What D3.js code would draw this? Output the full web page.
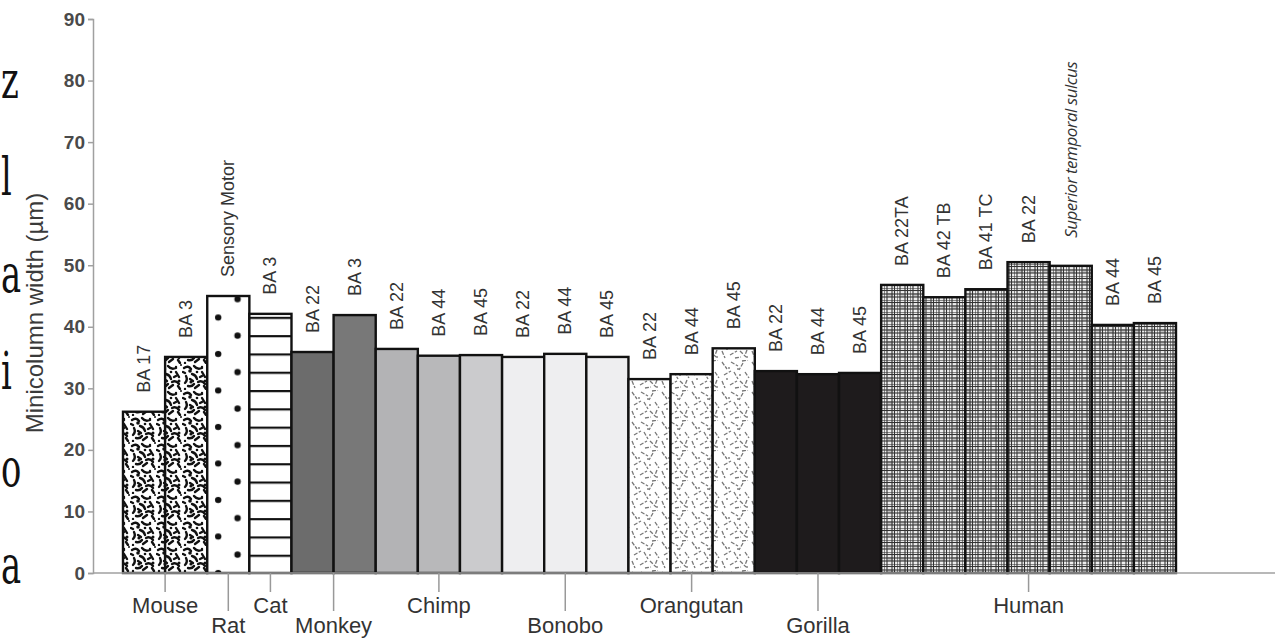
<!DOCTYPE html>
<html>
<head>
<meta charset="utf-8">
<script src="https://cdn.jsdelivr.net/npm/d3@7"></script>
<style>
  body { margin: 0; background: #fff; }
  svg { display: block; }
</style>
</head>
<body>
<div id="chart"></div>
<script>
// Species groups along the x axis
const groups = ["Mouse", "Rat", "Cat", "Monkey", "Chimp", "Bonobo", "Orangutan", "Gorilla", "Human"];

// One entry per bar
const barGroups = ["Mouse", "Mouse", "Rat", "Cat", "Monkey", "Monkey",
    "Chimp", "Chimp", "Chimp", "Bonobo", "Bonobo", "Bonobo",
    "Orangutan", "Orangutan", "Orangutan", "Gorilla", "Gorilla", "Gorilla",
    "Human", "Human", "Human", "Human", "Human", "Human", "Human"];
const barLabels = ["BA 17", "BA 3", "Sensory Motor", "BA 3", "BA 22", "BA 3",
    "BA 22", "BA 44", "BA 45", "BA 22", "BA 44", "BA 45",
    "BA 22", "BA 44", "BA 45", "BA 22", "BA 44", "BA 45",
    "BA 22TA", "BA 42 TB", "BA 41 TC", "BA 22", "Superior temporal sulcus", "BA 44", "BA 45"];
const widths = [26.2, 35.1, 45.0, 42.1, 35.9, 41.9,
    36.4, 35.3, 35.4, 35.1, 35.6, 35.1,
    31.5, 32.3, 36.5, 32.8, 32.3, 32.5,
    46.8, 44.8, 46.1, 50.5, 49.9, 40.3, 40.6];

const yTicks = [0, 10, 20, 30, 40, 50, 60, 70, 80, 90];
const yTitle = "Minicolumn width (\u00b5m)";

// cut-off text letters at the left page edge
const sideLetters = ["z", "l", "a", "i", "o", "a"];

const W = 1281, H = 642;
const margin = {top: 19, right: 105, bottom: 69, left: 123};

const svg = d3.select("#chart").append("svg")
    .attr("width", W)
    .attr("height", H);

const x = d3.scaleBand()
    .domain(d3.range(widths.length))
    .range([margin.left, W - margin.right])
    .padding(0);

const y = d3.scaleLinear()
    .domain([0, 90])
    .range([H - margin.bottom, margin.top]);

const bw = x.bandwidth();
const defs = svg.append("defs");

// ---- fill patterns ----
// Mouse: black blotchy texture
let pm = defs.append("pattern").attr("id", "mouse")
    .attr("patternUnits", "userSpaceOnUse").attr("width", 26).attr("height", 26);
pm.append("rect").attr("width", 26).attr("height", 26).attr("fill", "#fff");
[
    "M2,4 q4,-3 7,1", "M12,2 q3,4 8,2", "M20,8 l3,5", "M4,12 q2,4 -1,7",
    "M10,10 q4,1 5,5", "M16,18 q4,-2 7,2", "M6,22 q4,1 6,-2", "M13,24 l4,-3",
    "M22,22 l2,3", "M1,8 l2,1", "M18,13 l2,-1", "M8,15 l3,2"
].forEach(p => pm.append("path").attr("d", p).attr("fill", "none")
    .attr("stroke", "#111").attr("stroke-width", 2.4).attr("stroke-linecap", "round"));
[[8, 7, 1.8], [15, 8, 1.3], [23, 17, 1.5], [9, 18, 1.6], [3, 25, 1.2], [20, 3, 1.2], [25, 1, 1]]
    .forEach(c => pm.append("circle").attr("cx", c[0]).attr("cy", c[1]).attr("r", c[2]).attr("fill", "#111"));

// Rat: white with alternating black dots
const ratIdx = barGroups.indexOf("Rat");
let pr = defs.append("pattern").attr("id", "rat")
    .attr("patternUnits", "userSpaceOnUse")
    .attr("x", x(ratIdx)).attr("y", y(0) - 9)
    .attr("width", bw).attr("height", 36.5);
pr.append("rect").attr("width", bw).attr("height", 36.5).attr("fill", "#fff");
pr.append("circle").attr("cx", bw * 0.26).attr("cy", 9).attr("r", 3.2).attr("fill", "#111");
pr.append("circle").attr("cx", bw * 0.72).attr("cy", 27.2).attr("r", 3.2).attr("fill", "#111");

// Cat: horizontal stripes
let pc = defs.append("pattern").attr("id", "cat")
    .attr("patternUnits", "userSpaceOnUse")
    .attr("y", y(0)).attr("width", 10).attr("height", 18.3);
pc.append("rect").attr("width", 10).attr("height", 18.3).attr("fill", "#fff");
pc.append("rect").attr("y", 0).attr("width", 10).attr("height", 2.2).attr("fill", "#111");

// Orangutan: light grey dashes
let po = defs.append("pattern").attr("id", "orang")
    .attr("patternUnits", "userSpaceOnUse").attr("width", 30).attr("height", 30);
po.append("rect").attr("width", 30).attr("height", 30).attr("fill", "#fff");
[
    "M2,2 l5,7", "M11,2 l7,4", "M23,3 l-4,7", "M25,12 l4,6", "M4,15 l7,-4",
    "M14,12 l4,7", "M2,21 l3,7", "M10,25 l7,-4", "M20,21 l6,6", "M22,1 l6,-1", "M15,28 l6,-1", "M27,20 l-2,5"
].forEach(p => po.append("path").attr("d", p).attr("stroke", "#777")
    .attr("stroke-width", 1.3).attr("stroke-dasharray", "4,1.5"));
[[9, 8], [20, 15], [7, 19], [27, 27], [18, 9]]
    .forEach(c => po.append("circle").attr("cx", c[0]).attr("cy", c[1]).attr("r", 0.9).attr("fill", "#777"));

// Human: coarse irregular crosshatch grid
let ph = defs.append("pattern").attr("id", "human")
    .attr("patternUnits", "userSpaceOnUse").attr("width", 13).attr("height", 12);
ph.append("rect").attr("width", 13).attr("height", 12).attr("fill", "#eeeeee");
ph.append("rect").attr("x", 4).attr("y", 5).attr("width", 5).attr("height", 4).attr("fill", "#c4c4c4");
ph.append("rect").attr("x", 9).attr("y", 0).attr("width", 3).attr("height", 3).attr("fill", "#fff");
[[0, 0, 0, 12], [3, 0, 3, 12], [8, 0, 8, 12], [10.5, 0, 10.5, 12],
 [0, 0, 13, 0], [0, 2.5, 13, 2.5], [0, 6, 13, 6], [0, 9, 13, 9]]
    .forEach(l => ph.append("line").attr("x1", l[0]).attr("y1", l[1]).attr("x2", l[2]).attr("y2", l[3])
        .attr("stroke", "#333").attr("stroke-width", 1.1));

// fill for each bar
const solid = {
    Monkey: ["#6c6c6c", "#787878"],
    Chimp: ["#b3b3b5", "#b8b8ba", "#cbcbcd"],
    Bonobo: ["#eeeef0", "#eeeef0", "#eeeef0"],
    Gorilla: ["#1e1b1c", "#1e1b1c", "#1e1b1c"]
};
const patternOf = {Mouse: "url(#mouse)", Rat: "url(#rat)", Cat: "url(#cat)", Orangutan: "url(#orang)", Human: "url(#human)"};

function fillFor(i) {
    const g = barGroups[i];
    if (patternOf[g]) return patternOf[g];
    const k = i - barGroups.indexOf(g);
    return solid[g][k];
}

// ---- side letters (tall, narrow serif glyphs at the page edge) ----
svg.append("g").selectAll("text")
    .data(sideLetters)
    .join("text")
    .attr("transform", (d, i) => `translate(1,${98 + i * 97}) scale(0.65,1)`)
    .attr("font-family", "DejaVu Serif")
    .attr("font-size", 52)
    .attr("fill", "#111")
    .text(d => d);

// ---- y axis ----
const yAxisX = 93;
const yAxis = svg.append("g")
    .attr("transform", `translate(${yAxisX},0)`)
    .call(d3.axisLeft(y).tickValues(yTicks).tickSize(5).tickPadding(3));
yAxis.select(".domain").attr("stroke", "#a0a0a0").attr("stroke-width", 1.5);
yAxis.selectAll(".tick line").attr("stroke", "#a0a0a0").attr("stroke-width", 1.5);
yAxis.selectAll(".tick text")
    .attr("font-family", "Liberation Sans, Arial, sans-serif")
    .attr("font-size", 19)
    .attr("font-weight", "bold")
    .attr("fill", "#4a4a4a");

svg.append("text")
    .attr("transform", `translate(43,${(y(0) + y(90)) / 2 + 17}) rotate(-90)`)
    .attr("text-anchor", "middle")
    .attr("font-family", "Liberation Sans, Arial, sans-serif")
    .attr("font-size", 24)
    .attr("fill", "#3a3a3a")
    .text(yTitle);

// ---- bars ----
svg.append("g").selectAll("rect")
    .data(widths)
    .join("rect")
    .attr("x", (d, i) => x(i))
    .attr("y", d => y(d))
    .attr("width", bw)
    .attr("height", d => y(0) - y(d))
    .attr("fill", (d, i) => fillFor(i))
    .attr("stroke", "#111")
    .attr("stroke-width", 2.4);

// bar labels
const isLong = s => s.length > 20;
svg.append("g").selectAll("text")
    .data(widths)
    .join("text")
    .attr("transform", (d, i) => {
        const gap = isLong(barLabels[i]) ? 28 : 19;
        return `translate(${x(i) + bw / 2 + 6},${y(d) - gap}) rotate(-90)`;
    })
    .attr("font-family", (d, i) => isLong(barLabels[i]) ? "Open Sans, sans-serif" : "Liberation Sans, Arial, sans-serif")
    .attr("font-style", (d, i) => isLong(barLabels[i]) ? "italic" : "normal")
    .attr("font-size", (d, i) => isLong(barLabels[i]) ? 17 : 18)
    .attr("letter-spacing", (d, i) => isLong(barLabels[i]) ? -0.5 : 0)
    .attr("fill", "#333")
    .text((d, i) => barLabels[i]);

// ---- x axis with group labels ----
svg.append("line")
    .attr("x1", yAxisX).attr("x2", W - 6)
    .attr("y1", y(0)).attr("y2", y(0))
    .attr("stroke", "#a0a0a0").attr("stroke-width", 1.5);

const groupCenter = g => {
    const idx = d3.range(barGroups.length).filter(i => barGroups[i] === g);
    return (x(idx[0]) + x(idx[idx.length - 1]) + bw) / 2;
};

const gl = svg.append("g").selectAll("g")
    .data(groups)
    .join("g")
    .attr("transform", d => `translate(${groupCenter(d)},0)`);

gl.append("line")
    .attr("y1", y(0))
    .attr("y2", (d, i) => y(0) + (i % 2 ? 38 : 19))
    .attr("stroke", "#999")
    .attr("stroke-width", 1.5);

gl.append("text")
    .attr("y", (d, i) => y(0) + (i % 2 ? 60 : 40))
    .attr("text-anchor", "middle")
    .attr("font-family", "Liberation Sans, Arial, sans-serif")
    .attr("font-size", 22)
    .attr("fill", "#333")
    .text(d => d);
</script>
</body>
</html>
